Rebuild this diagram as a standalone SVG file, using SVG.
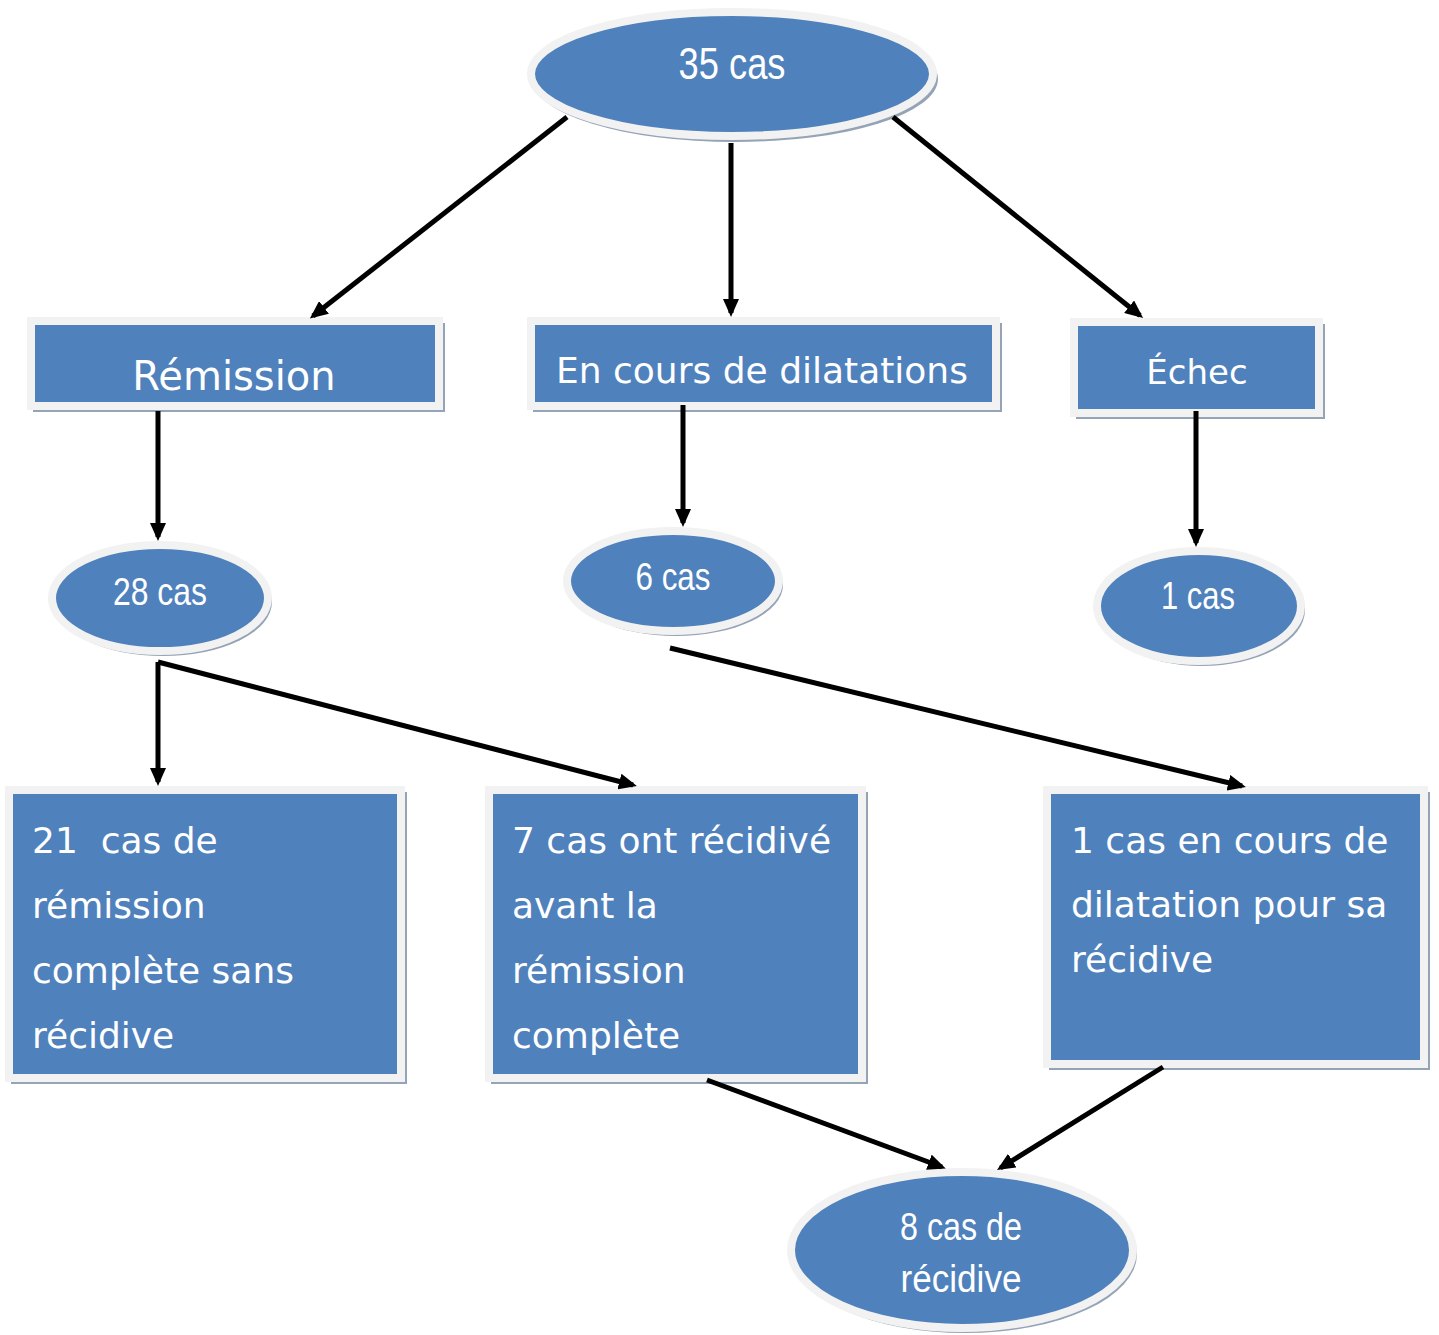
<svg xmlns="http://www.w3.org/2000/svg" width="1439" height="1335" viewBox="0 0 1439 1335">
<defs>
<style>
.shadow{fill:#95A3B6;}
.box{fill:#4F81BD;stroke:#F2F2F2;stroke-width:8;}
.narrow{font-family:"Liberation Sans",Arial,sans-serif;fill:#FFFFFF;text-anchor:middle;}
.sans{font-family:"DejaVu Sans","Liberation Sans",sans-serif;fill:#FFFFFF;}
.mid{text-anchor:middle;}
.conn{stroke:#000000;stroke-width:5;fill:none;marker-end:url(#arrow);}
</style>
<marker id="arrow" viewBox="0 0 18 16" markerWidth="18" markerHeight="16" markerUnits="userSpaceOnUse" refX="14" refY="8" orient="auto">
<path d="M0,0 L18,8 L0,16 z" fill="#000000"/>
</marker>
</defs>
<rect width="1439" height="1335" fill="#FFFFFF"/>

<g id="n35">
<ellipse class="shadow" cx="735" cy="79" rx="203" ry="63"/>
<ellipse class="box" cx="732" cy="74" rx="201" ry="62"/>
<text class="narrow" x="732" y="79" font-size="44" textLength="107" lengthAdjust="spacingAndGlyphs">35 cas</text>
</g>

<g id="remission">
<rect class="shadow" x="33" y="323" width="412" height="89"/>
<rect class="box" x="31" y="321" width="408" height="85"/>
<text class="sans mid" x="234" y="390" font-size="40">Rémission</text>
</g>

<g id="encours">
<rect class="shadow" x="533" y="323" width="469" height="89"/>
<rect class="box" x="531" y="321" width="465" height="85"/>
<text class="sans mid" x="762" y="383" font-size="36">En cours de dilatations</text>
</g>

<g id="echec">
<rect class="shadow" x="1076" y="324" width="249" height="95"/>
<rect class="box" x="1074" y="322" width="245" height="91"/>
<text class="sans mid" x="1197" y="384" font-size="34">Échec</text>
</g>

<g id="n28">
<ellipse class="shadow" cx="163" cy="602" rx="109" ry="54"/>
<ellipse class="box" cx="160" cy="598" rx="108" ry="53"/>
<text class="narrow" x="160" y="605" font-size="39" textLength="94" lengthAdjust="spacingAndGlyphs">28 cas</text>
</g>

<g id="n6">
<ellipse class="shadow" cx="676" cy="585" rx="107" ry="51"/>
<ellipse class="box" cx="673" cy="581" rx="106" ry="50"/>
<text class="narrow" x="673" y="590" font-size="38" textLength="75" lengthAdjust="spacingAndGlyphs">6 cas</text>
</g>

<g id="n1">
<ellipse class="shadow" cx="1202" cy="610" rx="103" ry="56"/>
<ellipse class="box" cx="1199" cy="606" rx="102" ry="55"/>
<text class="narrow" x="1198" y="609" font-size="38" textLength="74" lengthAdjust="spacingAndGlyphs">1 cas</text>
</g>

<g id="r21">
<rect class="shadow" x="11" y="792" width="396" height="292"/>
<rect class="box" x="9" y="790" width="392" height="288"/>
<text class="sans" font-size="36" x="32" y="853" xml:space="preserve">21  cas de</text>
<text class="sans" font-size="36" x="32" y="918">rémission</text>
<text class="sans" font-size="36" x="32" y="983">complète sans</text>
<text class="sans" font-size="36" x="32" y="1048">récidive</text>
</g>

<g id="r7">
<rect class="shadow" x="491" y="792" width="377" height="292"/>
<rect class="box" x="489" y="790" width="373" height="288"/>
<text class="sans" font-size="36" x="512" y="853">7 cas ont récidivé</text>
<text class="sans" font-size="36" x="512" y="918">avant la</text>
<text class="sans" font-size="36" x="512" y="983">rémission</text>
<text class="sans" font-size="36" x="512" y="1048">complète</text>
</g>

<g id="r1">
<rect class="shadow" x="1049" y="792" width="381" height="278"/>
<rect class="box" x="1047" y="790" width="377" height="274"/>
<text class="sans" font-size="36" x="1071" y="853">1 cas en cours de</text>
<text class="sans" font-size="36" x="1071" y="917">dilatation pour sa</text>
<text class="sans" font-size="36" x="1071" y="972">récidive</text>
</g>

<g id="n8">
<ellipse class="shadow" cx="965" cy="1254" rx="172" ry="79"/>
<ellipse class="box" cx="962" cy="1250" rx="171" ry="78"/>
<text class="narrow" x="961" y="1240" font-size="38" textLength="122" lengthAdjust="spacingAndGlyphs">8 cas de</text>
<text class="narrow" x="961" y="1292" font-size="38" textLength="121" lengthAdjust="spacingAndGlyphs">récidive</text>
</g>

<g id="connectors">
<line class="conn" x1="567" y1="117" x2="313" y2="316"/>
<line class="conn" x1="731" y1="143" x2="731" y2="313"/>
<line class="conn" x1="893" y1="117" x2="1140" y2="315.5"/>
<line class="conn" x1="158" y1="411" x2="158" y2="537"/>
<line class="conn" x1="683" y1="405" x2="683" y2="523"/>
<line class="conn" x1="1196" y1="411" x2="1196" y2="543"/>
<line class="conn" x1="158" y1="662" x2="158" y2="782"/>
<line class="conn" x1="158" y1="662" x2="633" y2="785"/>
<line class="conn" x1="670" y1="648" x2="1242" y2="786"/>
<line class="conn" x1="707" y1="1080" x2="942" y2="1167"/>
<line class="conn" x1="1163" y1="1067" x2="1000.4" y2="1168"/>
</g>
</svg>
